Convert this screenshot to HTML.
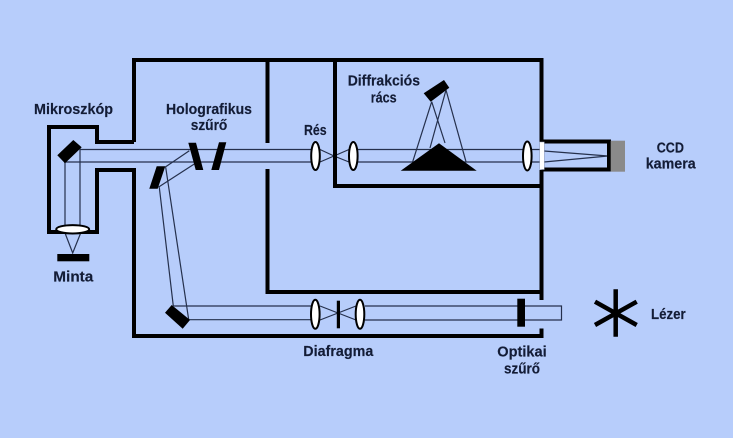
<!DOCTYPE html>
<html><head><meta charset="utf-8"><style>
html,body{margin:0;padding:0;background:#b7cdfb;width:733px;height:438px;overflow:hidden}
svg{display:block}
text{font-family:"Liberation Sans",sans-serif;font-weight:bold;font-size:14.5px;fill:#131c36;stroke:#131c36;stroke-width:.15}
</style></head><body>
<svg width="733" height="438" viewBox="0 0 733 438" xmlns="http://www.w3.org/2000/svg">
<rect width="733" height="438" fill="#b7cdfb"/>
<g fill="none" stroke="#25304c" stroke-width="1.2">
<path d="M80 149.5H311M64 162H311"/>
<path d="M320 149.5L334 156L349 162M320 162L334 156L349 149.5"/>
<path d="M358 149.5H524M358 162H524"/>
<path d="M532 149.5H544M532 162H544M544 151L608 156L544 162"/>
<path d="M65 160V226M80 147V226"/>
<path d="M65 233L72.7 253L80.7 233"/>
<path d="M189.3 150.7L165 167.3M194.3 164L158.3 187.3"/>
<path d="M159.3 187.3L173.3 306M165.7 167.3L188.7 319.7"/>
<path d="M173.3 306H311M188.7 319.7H311"/>
<path d="M320 306L338 313L356 320M320 320L338 313L356 306"/>
<path d="M365 306H561.5V320H365"/>
<path d="M431.7 101.7L412.7 161.7M431.7 101.7L445 143M446 90L430 148M446 90L466 161.7"/>
</g>
<g fill="none" stroke="#000" stroke-width="4" stroke-linejoin="miter">
<path d="M134 142V60H541.5V142"/>
<path d="M134 142H97V127H49V232H97V170H134V336H541.5V328.5"/>
<path d="M267.5 60V143M267.5 169V292H541.5V300M541.5 170V292"/>
<path d="M335 60V186H541.5"/>
<path d="M541.5 141.5H609V169.5H541.5"/>
</g>
<rect x="539.7" y="142" width="4.6" height="27.5" fill="#fff" stroke="#8e9ab5" stroke-width=".5"/>
<rect x="610.7" y="140.7" width="14.3" height="31" fill="#8a8a8a"/>
<g fill="#000">
<polygon points="73.3,140 81.7,147.3 65,163.3 57.3,155.3"/>
<rect x="57.3" y="254" width="32" height="7.3"/>
<polygon points="188.3,142.7 196,142.7 203.3,170 195.7,170"/>
<polygon points="219,142.3 226.3,142.3 219,170 211.3,170"/>
<polygon points="156.7,166.3 165.3,166.3 157.7,188.7 149.3,188.7"/>
<polygon points="171.7,305 190,320 182.7,328.7 165,312.7"/>
<polygon points="439,143.3 400.7,170.7 476.7,170.7"/>
<polygon points="444,80 449.3,87.7 430.7,101.7 423.7,93.3"/>
<rect x="336.8" y="300.7" width="3.2" height="27.6"/>
<rect x="517.3" y="298.7" width="7.7" height="28"/>
</g>
<g fill="#fff" stroke="#000" stroke-width="2">
<ellipse cx="72.7" cy="229.3" rx="16.5" ry="4.2"/>
<ellipse cx="315.5" cy="156" rx="4.3" ry="14"/>
<ellipse cx="353.3" cy="156" rx="4.3" ry="14"/>
<ellipse cx="527.3" cy="156" rx="4.3" ry="14.5"/>
<ellipse cx="315.3" cy="314.3" rx="4.3" ry="14.5"/>
<ellipse cx="360" cy="314.3" rx="4.3" ry="14.5"/>
</g>
<g stroke="#000" stroke-width="4.5" fill="none">
<path d="M615.7 289.3V336.7M595 301.7L636.7 325M595 325L636.7 301.7"/>
</g>
<g>
<text x="34" y="114" textLength="79" lengthAdjust="spacingAndGlyphs">Mikroszkóp</text>
<text x="166" y="114" textLength="86" lengthAdjust="spacingAndGlyphs">Holografikus</text>
<text x="190.7" y="130" textLength="36.6" lengthAdjust="spacingAndGlyphs">szűrő</text>
<text x="53.3" y="281.7" textLength="40" lengthAdjust="spacingAndGlyphs">Minta</text>
<text x="304" y="135" textLength="22.7" lengthAdjust="spacingAndGlyphs">Rés</text>
<text x="347.7" y="85.7" textLength="72.3" lengthAdjust="spacingAndGlyphs">Diffrakciós</text>
<text x="370.7" y="102.7" textLength="26" lengthAdjust="spacingAndGlyphs">rács</text>
<text x="656.7" y="152.7" textLength="27.3" lengthAdjust="spacingAndGlyphs">CCD</text>
<text x="645.7" y="168.7" textLength="50" lengthAdjust="spacingAndGlyphs">kamera</text>
<text x="303.3" y="356" textLength="70" lengthAdjust="spacingAndGlyphs">Diafragma</text>
<text x="497.3" y="356.7" textLength="49.4" lengthAdjust="spacingAndGlyphs">Optikai</text>
<text x="504" y="373.3" textLength="36" lengthAdjust="spacingAndGlyphs">szűrő</text>
<text x="651" y="319" textLength="34.7" lengthAdjust="spacingAndGlyphs">Lézer</text>
</g>
</svg>
</body></html>
